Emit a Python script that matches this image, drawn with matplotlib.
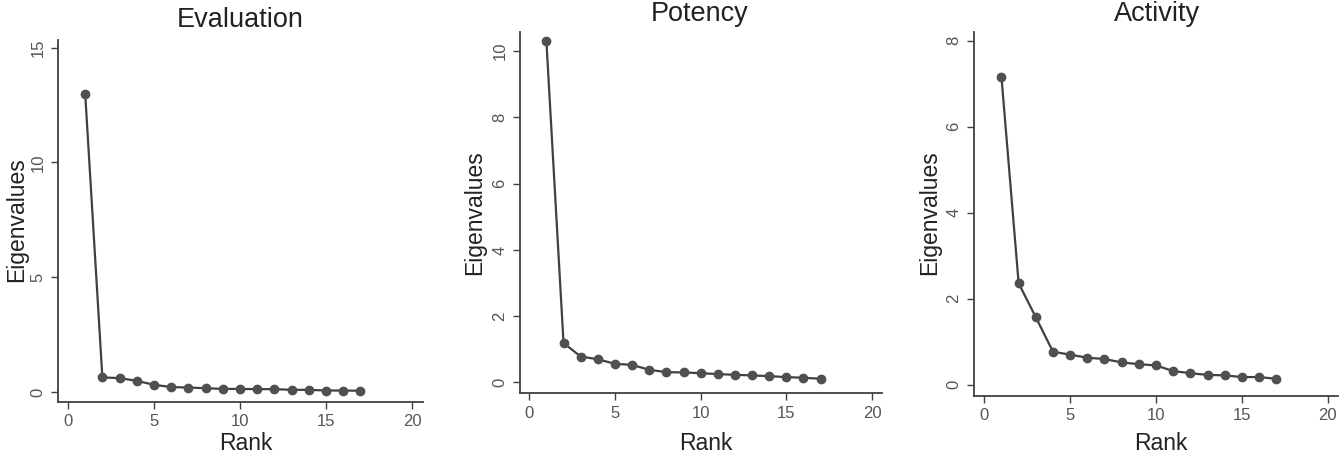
import numpy as np
import matplotlib
matplotlib.use("Agg")
import matplotlib.pyplot as plt

plt.rcParams['font.family'] = ['Liberation Sans', 'DejaVu Sans']

# Datos
rank = np.arange(1, 18)
evaluation = [13.0, 0.64, 0.61, 0.49, 0.32, 0.22, 0.20, 0.17, 0.14, 0.14,
              0.13, 0.13, 0.10, 0.10, 0.07, 0.07, 0.06]
potency = [10.3, 1.19, 0.78, 0.70, 0.56, 0.53, 0.38, 0.31, 0.30, 0.28,
           0.25, 0.23, 0.21, 0.19, 0.16, 0.14, 0.11]
activity = [7.15, 2.36, 1.57, 0.77, 0.70, 0.63, 0.60, 0.52, 0.48, 0.45,
            0.32, 0.27, 0.23, 0.22, 0.18, 0.18, 0.14]

titulos = ["Evaluation", "Potency", "Activity"]
series = [evaluation, potency, activity]
yticks = [[0, 5, 10, 15], [0, 2, 4, 6, 8, 10], [0, 2, 4, 6, 8]]
xticks = [0, 5, 10, 15, 20]

W, H = 1340, 458
# posiciones de los ejes en pixeles: izquierda, derecha, arriba, abajo
cajas = [(58, 423, 40, 402), (520, 882, 32, 393), (974, 1338, 32, 396)]
xlims = [(-0.58, 20.64), (-0.54, 20.58), (-0.6, 20.6)]
ylims = [(-0.43, 15.33), (-0.32, 10.58), (-0.26, 8.2)]
# posiciones del titulo y de la etiqueta y
titulo_xy = [(240, 20), (700, 14), (1157, 14)]
ylabel_xy = [(17, 220), (475, 213), (930, 213)]
xlabel_y = 443

gris = '#404040'
gris_txt = '#555555'

fig = plt.figure(figsize=(W / 100, H / 100), dpi=100)

for i in range(3):
    l, r, t, b = cajas[i]
    ax = fig.add_axes([l / W, 1 - b / H, (r - l) / W, (b - t) / H])
    ax.plot(rank, series[i], color=gris, lw=1.6, marker='o', ms=6,
            markerfacecolor='#505050', markeredgecolor='#505050')
    ax.set_xlim(*xlims[i])
    ax.set_ylim(*ylims[i])
    ax.set_xticks(xticks)
    ax.set_yticks(yticks[i])
    ax.spines['top'].set_visible(False)
    ax.spines['right'].set_visible(False)
    for s in ['left', 'bottom']:
        ax.spines[s].set_color(gris)
        ax.spines[s].set_linewidth(1.3)
    ax.tick_params(axis='both', direction='out', length=5, width=1.0,
                   color=gris, labelcolor=gris_txt, labelsize=12, pad=4)
    for lab in ax.get_yticklabels():
        lab.set_rotation(90)
        lab.set_va('center')
    ax.patch.set_alpha(0)

    tx, ty = titulo_xy[i]
    fig.text(tx / W, 1 - ty / H, titulos[i], ha='center', va='center',
             fontsize=19.5, color='#222222')
    yx, yy = ylabel_xy[i]
    fig.text(yx / W, 1 - yy / H, "Eigenvalues", ha='center', va='center',
             rotation=90, fontsize=16.5, color='#222222')
    fig.text(((l + r) / 2 + 5) / W, 1 - xlabel_y / H, "Rank", ha='center',
             va='center', fontsize=16.5, color='#222222')

fig.savefig("out.png", dpi=100, facecolor='white')
